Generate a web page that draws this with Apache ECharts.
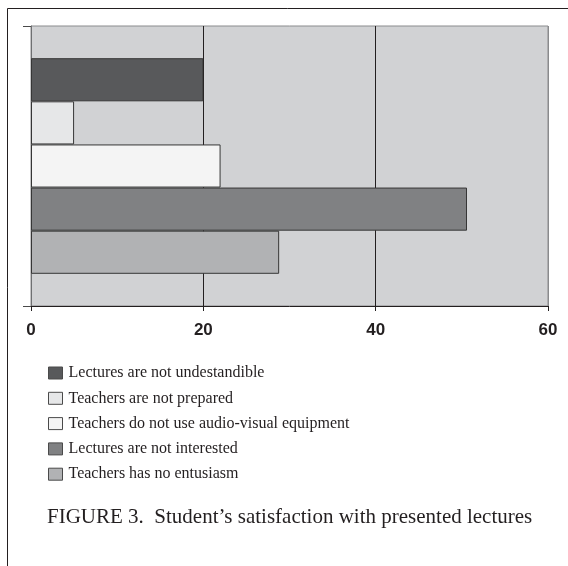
<!DOCTYPE html>
<html>
<head>
<meta charset="utf-8">
<script src="https://cdn.jsdelivr.net/npm/echarts@6/dist/echarts.min.js"></script>
<style>
html,body{margin:0;padding:0;background:#fff;}
#chart{width:568px;height:566px;}
</style>
</head>
<body>
<div id="chart"></div>
<script>
const seriesNames = [
  "Lectures are not undestandible",
  "Teachers are not prepared",
  "Teachers do not use audio-visual equipment",
  "Lectures are not interested",
  "Teachers has no entusiasm"
];
const seriesValues = [20, 5, 22, 50.6, 28.8];
const seriesColors = ["#58595b", "#e6e7e8", "#f4f4f4", "#808183", "#b1b2b4"];
const xTicks = [0, 20, 40, 60];
const categories = ["all"];
const caption = "FIGURE 3.  Student\u2019s satisfaction with presented lectures";

const chart = echarts.init(document.getElementById('chart'), null, {renderer: 'canvas'});

const series = seriesNames.map((name, i) => ({
  name: name,
  type: 'bar',
  data: [seriesValues[i]],
  barGap: '0%',
  barCategoryGap: '23%',
  itemStyle: {color: seriesColors[i], borderColor: '#363636', borderWidth: 1},
  emphasis: {disabled: true},
  animation: false
}));

chart.setOption({
  animation: false,
  backgroundColor: '#ffffff',
  grid: {
    left: 31, right: 20, top: 26, bottom: 260,
    show: true, backgroundColor: '#d1d2d4', borderColor: '#8a8b8d', borderWidth: 1
  },
  xAxis: {
    type: 'value',
    min: xTicks[0], max: xTicks[xTicks.length - 1], interval: 20,
    axisLine: {show: true, lineStyle: {color: '#231f20', width: 1}},
    axisTick: {show: true, length: 5, lineStyle: {color: '#231f20'}},
    axisLabel: {fontFamily: 'Liberation Sans', fontWeight: 'bold', fontSize: 17, color: '#231f20', margin: 16},
    splitLine: {show: true, lineStyle: {color: ['#7f8082', '#231f20', '#231f20', '#8a8b8d'], width: 1}}
  },
  yAxis: {
    type: 'category',
    data: categories,
    inverse: true,
    axisLine: {show: true, lineStyle: {color: '#6f7072', width: 1}},
    axisTick: {show: true, length: 8, lineStyle: {color: '#4a4a4a'}},
    axisLabel: {show: false},
    splitLine: {show: false}
  },
  legend: {
    orient: 'vertical',
    left: 48, top: 365,
    padding: 0,
    icon: 'rect',
    itemWidth: 14, itemHeight: 12, itemGap: 9.3,
    selectedMode: false,
    itemStyle: {borderWidth: 1, borderColor: '#4a4a4a'},
    textStyle: {fontFamily: 'Liberation Serif', fontSize: 16, color: '#231f20', lineHeight: 15, padding: [0, 0, 0, 1]},
    data: seriesNames
  },
  graphic: [
    {type: 'polyline', shape: {points: [[7.5, 566], [7.5, 8.5], [568, 8.5]]}, style: {stroke: '#231f20', lineWidth: 1, fill: null}, silent: true},
    {type: 'text', left: 47, top: 507, style: {text: caption, font: '21px "Liberation Serif"', fill: '#231f20'}, silent: true}
  ],
  series: series
});
</script>
</body>
</html>
